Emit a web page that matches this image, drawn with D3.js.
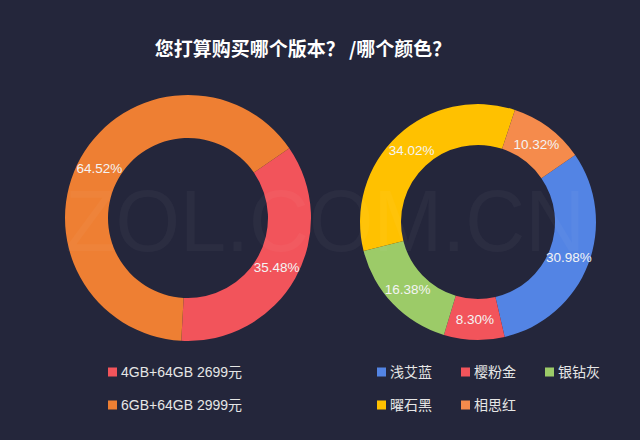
<!DOCTYPE html>
<html>

<head>
    <meta charset="UTF-8">
    <style>
        body { margin: 0; background: #24263b; }
        svg { display: block; }
    </style>
</head>

<body>
    <svg></svg>
    <script src="https://d3js.org/d3.v7.min.js"></script>

    <script>
        const width = 640, height = 440;

        // version question
        const versionNames = ["4GB+64GB 2699元", "6GB+64GB 2999元"];
        const versionValues = [35.48, 64.52];
        const versionColors = ["#f2545b", "#ee7f33"];

        // colour question
        const colorNames = ["浅艾蓝", "樱粉金", "银钻灰", "曜石黑", "相思红"];
        const colorValues = [30.98, 8.30, 16.38, 34.02, 10.32];
        const colorColors = ["#5384e4", "#f2545b", "#9ccb68", "#ffc100", "#f58b4c"];

        const font = "'Liberation Sans', 'Noto Sans CJK SC', sans-serif";

        let svg = d3.select("svg")
            .attr("width", width)
            .attr("height", height)
            .style("font-family", font);

        svg.append("rect")
            .attr("width", width)
            .attr("height", height)
            .attr("fill", "#24263b");

        // title
        svg.append("text")
            .attr("x", 303)
            .attr("y", 56)
            .attr("text-anchor", "middle")
            .attr("fill", "#ffffff")
            .attr("font-size", "19px")
            .attr("font-weight", "bold")
            .attr("font-family", "'Noto Sans CJK SC', sans-serif")
            .text("您打算购买哪个版本？ /哪个颜色？");

        // the first slice starts a bit right of 12 o'clock, clockwise
        const pie = d3.pie()
            .sort(null)
            .startAngle(55.4 * Math.PI / 180)
            .endAngle((55.4 + 360) * Math.PI / 180);

        function donut(cx, cy, r0, r1, values, colors) {
            const arc = d3.arc().innerRadius(r0).outerRadius(r1);
            const g = svg.append("g")
                .attr("transform", "translate(" + cx + "," + cy + ")");
            const arcs = pie(values);

            g.selectAll("path")
                .data(arcs)
                .enter()
                .append("path")
                .attr("d", arc)
                .attr("fill", (d, i) => colors[i]);

            g.selectAll("text")
                .data(arcs)
                .enter()
                .append("text")
                .attr("transform", d => "translate(" + arc.centroid(d) + ")")
                .attr("text-anchor", "middle")
                .attr("dy", "0.35em")
                .attr("fill", "#f4f4f4")
                .attr("font-size", "13.5px")
                .text(d => d.data.toFixed(2) + "%");
        }

        donut(188, 218, 80, 123, versionValues, versionColors);
        donut(478, 222, 77, 118, colorValues, colorColors);

        // faint watermark on top of the rings
        svg.append("text")
            .attr("x", 325)
            .attr("y", 251)
            .attr("text-anchor", "middle")
            .attr("fill", "#ffffff")
            .attr("fill-opacity", 0.035)
            .attr("font-size", "88px")
            .attr("font-family", "'Liberation Sans', sans-serif")
            .attr("textLength", 520)
            .attr("lengthAdjust", "spacingAndGlyphs")
            .text("ZOL.COM.CN");

        // legends
        function legendItem(x, y, name, color) {
            svg.append("rect")
                .attr("x", x)
                .attr("y", y - 4.5)
                .attr("width", 9)
                .attr("height", 9)
                .attr("fill", color);
            svg.append("text")
                .attr("x", x + 13)
                .attr("y", y + 5)
                .attr("fill", "#e6e6e6")
                .attr("font-size", "14px")
                .text(name);
        }

        const rowY = [372, 405];
        versionNames.forEach((n, i) => legendItem(108, rowY[i], n, versionColors[i]));

        const colX = [377, 461, 545];
        colorNames.forEach((n, i) => legendItem(colX[i % 3], rowY[Math.floor(i / 3)], n, colorColors[i]));
    </script>

</body>

</html>
